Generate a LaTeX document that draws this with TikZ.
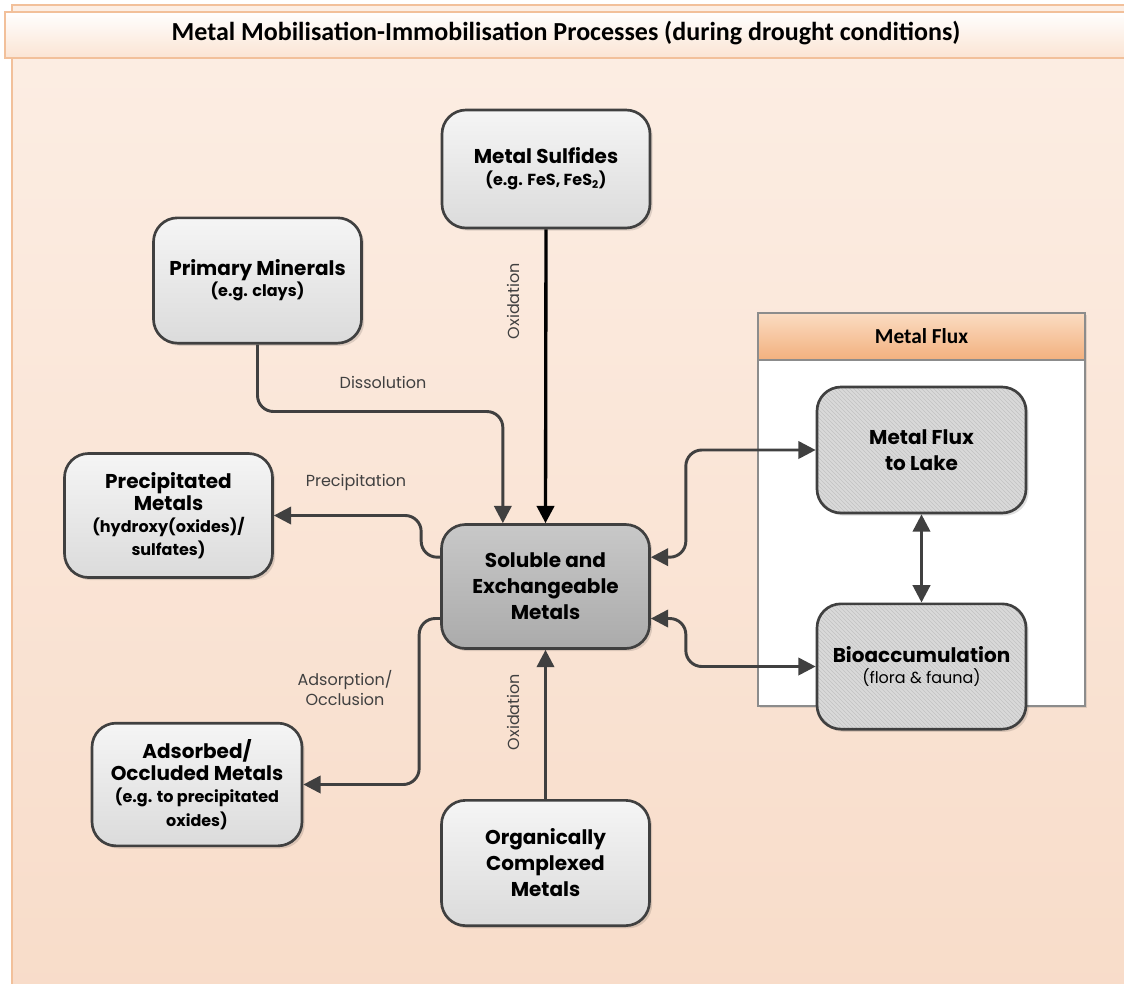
\documentclass[tikz,border=0pt]{standalone}
\usepackage{fontspec}
\setmainfont{Poppins}
\newfontfamily\titlefont{Carlito}
\usetikzlibrary{arrows.meta,shadows,patterns}
\definecolor{dk}{HTML}{404040}
\definecolor{panelTop}{HTML}{FCEEE4}
\definecolor{panelBot}{HTML}{F8DCC9}
\definecolor{panelLine}{HTML}{F2C09A}
\definecolor{bandBot}{HTML}{FBE4D3}
\definecolor{boxTop}{HTML}{F5F5F5}
\definecolor{boxBot}{HTML}{DBDBDB}
\definecolor{solTop}{HTML}{C8C8C8}
\definecolor{solBot}{HTML}{ABABAB}
\definecolor{fluxFill}{HTML}{D9D9D9}
\definecolor{hatch}{HTML}{C2C2C2}
\definecolor{headTop}{HTML}{FBDCC2}
\definecolor{headBot}{HTML}{F2B07E}
\definecolor{frameLine}{HTML}{8C8C8C}
\tikzset{
  boxbase/.style={rounded corners=18pt, draw=dk, line width=2pt, align=center,
    minimum width=156pt, minimum height=93pt, inner sep=2pt,
    font=\bfseries\fontsize{15}{19.5}\selectfont,
    drop shadow={shadow xshift=2pt,shadow yshift=-2pt,fill=black,opacity=0.12}},
  greybox/.style={boxbase, top color=boxTop, bottom color=boxBot},
  solbox/.style={boxbase, top color=solTop, bottom color=solBot},
  fluxnode/.style={rounded corners=18pt, draw=dk, line width=2pt, align=center,
    minimum width=156.75pt, minimum height=94pt, inner sep=2pt,
    font=\bfseries\fontsize{15}{19.5}\selectfont,
    drop shadow={shadow xshift=2pt,shadow yshift=-2pt,fill=black,opacity=0.12},
    preaction={fill=fluxFill}, pattern=north west lines, pattern color=hatch},
  arr/.style={draw=dk, line width=2.2pt, rounded corners=12pt,
    -{Triangle[length=13pt,width=13pt]}},
  darr/.style={draw=dk, line width=2.2pt, rounded corners=12pt,
    {Triangle[length=13pt,width=13pt]}-{Triangle[length=13pt,width=13pt]}},
  blkarr/.style={draw=black, line width=2.5pt,
    -{Triangle[length=13pt,width=13pt]}},
  lbl/.style={text=dk, font=\fontsize{12}{15}\selectfont, align=center}
}
\newcommand\subtx{\fontsize{12}{15}\selectfont}
\begin{document}
\begin{tikzpicture}[x=0.75pt,y=-0.75pt]
\useasboundingbox (0,0) rectangle (1124,983);
% background panel
\begin{scope}
\clip (0,0) rectangle (1124,983);
\path[top color=panelTop, bottom color=panelBot, draw=panelLine, line width=1pt] (12,5) rectangle (1140,1000);
\path[top color=white, bottom color=bandBot, draw=panelLine, line width=0.8pt] (5,12) rectangle (1140,58);
\end{scope}
\node[font=\titlefont\bfseries\fontsize{19.5}{23}\selectfont] (title) at (566,33) {Metal Mobilisation-Immobilisation Processes (during drought conditions)};

% Metal flux container
\node[draw=frameLine, line width=0.8pt, fill=white, minimum width=245.25pt, minimum height=294.75pt, inner sep=0pt,
  drop shadow={shadow xshift=1.5pt,shadow yshift=-1.5pt,fill=black,opacity=0.1}] (frame) at (921.5,509.5) {};
\node[draw=frameLine, line width=0.8pt, top color=headTop, bottom color=headBot, minimum width=245.25pt, minimum height=35.25pt, inner sep=0pt,
  font=\titlefont\bfseries\fontsize{16}{19}\selectfont] (fluxhead) at (921.5,336.5) {Metal Flux};

% boxes
\node[greybox, minimum height=88.5pt] (sulf) at (546,169) {Metal Sulfides\\[-3pt]{\subtx (e.g. FeS, FeS\textsubscript{2})}};
\node[greybox, minimum height=94pt] (prim) at (257.5,280.5) {Primary Minerals\\[-4pt]{\subtx (e.g. clays)}};
\node[greybox] (prec) at (168.5,515.5) {Precipitated\\[-3pt]Metals\\[-3pt]{\subtx (hydroxy(oxides)/}\\[-2pt]{\subtx sulfates)}};
\node[solbox] (sol) at (545.5,586.5) {Soluble and\\Exchangeable\\Metals};
\node[greybox, minimum width=157.5pt, minimum height=92pt] (ads) at (197,784.5) {Adsorbed/\\[-3pt]Occluded Metals\\[-3pt]{\subtx (e.g. to precipitated}\\[-2pt]{\subtx oxides)}};
\node[greybox, minimum height=94pt] (org) at (545.5,863) {Organically\\Complexed\\Metals};
\node[fluxnode, minimum height=94.5pt] (lake) at (921.5,450) {Metal Flux\\to Lake};
\node[fluxnode] (bio) at (921.5,666.5) {Bioaccumulation\\[-4pt]{\mdseries\subtx (flora \& fauna)}};

% connectors
\draw[blkarr] (sulf.south) -- (sol.north);
\draw[arr] (prim.south) -- ++(0,67) -| ([xshift=-32pt]sol.north);
\draw[arr] ([yshift=22pt]sol.west) -- ++(-19,0) |- (prec.east);
\draw[arr] ([yshift=-24pt]sol.west) -- ++(-21,0) |- (ads.east);
\draw[arr] (org.north) -- (sol.south);
\draw[darr] ([yshift=22pt]sol.east) -- ++(35,0) |- (lake.west);
\draw[darr] ([yshift=-24pt]sol.east) -- ++(35,0) |- (bio.west);
\draw[darr] (lake.south) -- (bio.north);

% labels
\node[lbl, rotate=90] (ox1) at (513,301) {Oxidation};
\node[lbl] (dis) at (383,382) {Dissolution};
\node[lbl] (pre) at (356,482) {Precipitation};
\node[lbl] (adl) at (345,688) {Adsorption/\\Occlusion};
\node[lbl, rotate=90] (ox2) at (513,712) {Oxidation};
\end{tikzpicture}
\end{document}
